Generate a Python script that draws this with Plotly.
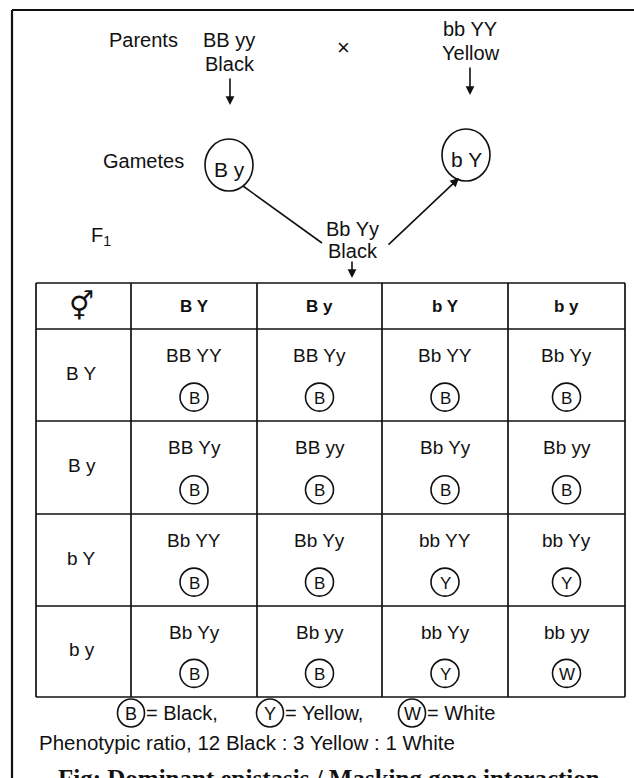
import plotly.graph_objects as go

# ---- data ----
parent_left = ["BB yy", "Black"]
parent_right = ["bb YY", "Yellow"]
gamete_left = "B y"
gamete_right = "b Y"
f1_label = ["Bb Yy", "Black"]
col_gametes = ["B Y", "B y", "b Y", "b y"]
row_gametes = ["B Y", "B y", "b Y", "b y"]
genotypes = [
    ["BB YY", "BB Yy", "Bb YY", "Bb Yy"],
    ["BB Yy", "BB yy", "Bb Yy", "Bb yy"],
    ["Bb YY", "Bb Yy", "bb YY", "bb Yy"],
    ["Bb Yy", "Bb yy", "bb Yy", "bb yy"],
]
phenotypes = [
    ["B", "B", "B", "B"],
    ["B", "B", "B", "B"],
    ["B", "B", "Y", "Y"],
    ["B", "B", "Y", "W"],
]
legend_keys = ["B", "Y", "W"]
legend_names = ["= Black,", "= Yellow,", "= White"]
ratio_text = "Phenotypic ratio, 12 Black : 3 Yellow : 1 White"
caption = "Fig: Dominant epistasis / Masking gene interaction"

# ---- layout constants (pixel space) ----
W, H = 634, 778
FONT = "Liberation Sans, Arial, Helvetica, sans-serif"
INK = "#111111"
col_edges = [36, 131, 257, 382, 508, 625]
row_edges = [283, 329, 421, 514, 606, 697]

fig = go.Figure()
shapes = []
ann = []

def text(x, y, s, size=20, xanchor="center", yanchor="middle", family=FONT, bold=False):
    ann.append(dict(x=x, y=y, text=(f"<b>{s}</b>" if bold else s), showarrow=False,
                    xanchor=xanchor, yanchor=yanchor,
                    font=dict(family=family, size=size, color=INK)))

def circle(cx, cy, rx, ry=None, w=1.6):
    ry = rx if ry is None else ry
    shapes.append(dict(type="circle", xref="x", yref="y", x0=cx - rx, x1=cx + rx,
                       y0=cy - ry, y1=cy + ry, line=dict(color=INK, width=w)))

def line(x0, y0, x1, y1, w=1.6):
    shapes.append(dict(type="line", xref="x", yref="y", x0=x0, y0=y0, x1=x1, y1=y1,
                       line=dict(color=INK, width=w)))

def arrow(x0, y0, x1, y1):
    ann.append(dict(x=x1, y=y1, ax=x0, ay=y0, xref="x", yref="y", axref="x", ayref="y",
                    text="", showarrow=True, arrowhead=2, arrowsize=1.1,
                    arrowwidth=1.6, arrowcolor=INK, standoff=0, startstandoff=0))

# outer frame (left and top edges; right/bottom run off the picture)
line(12, 10, 12, H + 5, w=2.2)
line(12, 10, W + 5, 10, w=2.2)

# parents
text(143, 40, "Parents")
text(229, 40, parent_left[0])
text(230, 64, parent_left[1])
text(343, 47, "×", size=22)
text(470, 29, parent_right[0])
text(471, 53, parent_right[1])
arrow(230, 77, 230, 105)
arrow(470, 66, 470, 95)

# gametes
text(143, 161, "Gametes")
circle(229, 165, 24, 26)
text(229, 169, gamete_left, size=21)
circle(466, 155, 24, 26)
text(466, 159, gamete_right, size=21)

# F1
text(101, 236, "F<sub>1</sub>")
line(243, 186, 322, 243)
arrow(387, 246, 459, 178)
text(352, 229, f1_label[0])
text(353, 251, f1_label[1])
arrow(352, 260, 352, 278)

# table grid
for x in col_edges:
    line(x, row_edges[0], x, row_edges[-1], w=1.7)
for y in row_edges:
    line(col_edges[0], y, col_edges[-1], y, w=1.7)

# header
hc = (row_edges[0] + row_edges[1]) / 2
text((col_edges[0] + col_edges[1]) / 2 - 2, hc, "⚥", size=28, family="DejaVu Sans")
for j, g in enumerate(col_gametes):
    text((col_edges[j + 1] + col_edges[j + 2]) / 2, hc, g, size=17, bold=True)

# rows
for i, g in enumerate(row_gametes):
    top, bot = row_edges[i + 1], row_edges[i + 2]
    h = bot - top
    text((col_edges[0] + col_edges[1]) / 2 - 2, top + h / 2 - 2, g, size=19)
    for j in range(4):
        cx = (col_edges[j + 1] + col_edges[j + 2]) / 2
        text(cx, top + 0.29 * h, genotypes[i][j], size=19)
        cy = top + 0.74 * h
        circle(cx, cy, 14, 14)
        text(cx, cy + 1, phenotypes[i][j], size=17)

# legend
leg_x = [131, 270, 412]
for k in range(3):
    circle(leg_x[k], 713, 13.5, 14)
    text(leg_x[k], 714, legend_keys[k], size=18)
    text(leg_x[k] + 13, 713, legend_names[k], size=20, xanchor="left")

text(37, 742, ratio_text, size=20.5, xanchor="left")
text(56, 763, caption, size=25, xanchor="left", yanchor="top",
     family="Liberation Serif, Times New Roman, serif", bold=True)

fig.update_layout(
    width=W, height=H, margin=dict(l=0, r=0, t=0, b=0),
    paper_bgcolor="white", plot_bgcolor="white",
    xaxis=dict(range=[0, W], visible=False, fixedrange=True),
    yaxis=dict(range=[H, 0], visible=False, fixedrange=True),
    shapes=shapes, annotations=ann, showlegend=False,
)
fig.write_html("out.html", config={"displayModeBar": False},
               post_script="document.body.style.margin='0';document.body.style.overflow='hidden';")
